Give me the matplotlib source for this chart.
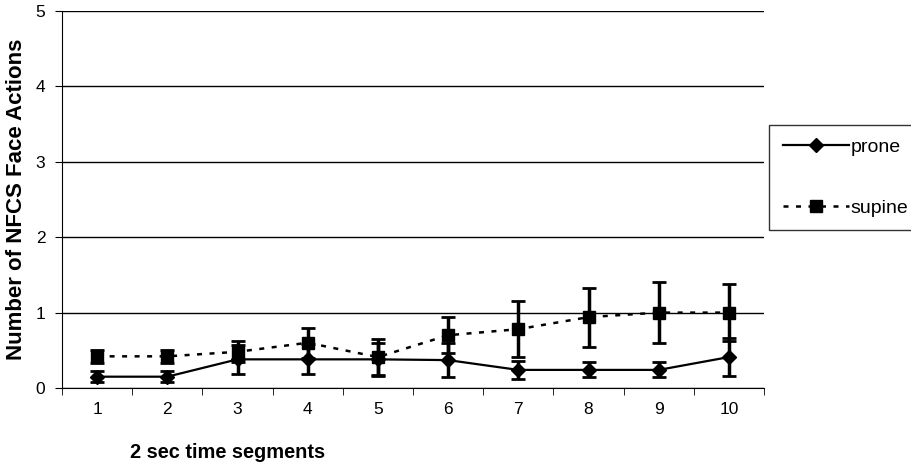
import matplotlib
matplotlib.use('Agg')
from matplotlib import pyplot as plt
import numpy as np

plt.rcParams['font.family'] = ['Liberation Sans', 'DejaVu Sans']

segments = [1, 2, 3, 4, 5, 6, 7, 8, 9, 10]
prone = [0.15, 0.15, 0.38, 0.38, 0.38, 0.37, 0.24, 0.24, 0.24, 0.41]
prone_err = [0.07, 0.07, 0.19, 0.2, 0.22, 0.23, 0.12, 0.1, 0.1, 0.25]
supine = [0.42, 0.42, 0.48, 0.6, 0.41, 0.7, 0.78, 0.94, 1.0, 1.0]
supine_err = [0.09, 0.09, 0.14, 0.2, 0.24, 0.24, 0.37, 0.39, 0.4, 0.38]

fig = plt.figure(figsize=(9.11, 4.66), dpi=100)
ax = fig.add_axes([62 / 911, 1 - 388 / 466, 702 / 911, 377 / 466])

p = ax.errorbar(segments, prone, yerr=prone_err, color='black', lw=1.6,
                marker='D', ms=7, capsize=5, elinewidth=2.5, capthick=2)
s = ax.errorbar(segments, supine, yerr=supine_err, color='black', lw=1.8,
                ls=(0, (2, 3)), marker='s', ms=9, capsize=5, elinewidth=2.5,
                capthick=2)

ax.set_xlim(0.5, 10.5)
ax.set_ylim(0, 5)
ax.set_yticks([0, 1, 2, 3, 4, 5])
ax.yaxis.grid(True, color='black', lw=1)
ax.set_axisbelow(True)
ax.set_xticks(segments)
ax.set_xticks(np.arange(0.5, 11, 1), minor=True)
ax.tick_params(axis='x', which='major', length=0, pad=10, labelsize=12.5)
ax.tick_params(axis='x', which='minor', length=5, direction='out')
ax.tick_params(axis='y', length=5, direction='out', labelsize=12.5, pad=7)
for side in ['top', 'right']:
    ax.spines[side].set_visible(False)

ax.set_ylabel('Number of NFCS Face Actions', fontsize=16, fontweight='bold',
              labelpad=6)
fig.text(130 / 911, 1 - 453 / 466, '2 sec time segments', fontsize=14.4,
         fontweight='bold', va='center')

leg = fig.legend([p.lines[0], s.lines[0]], ['prone', 'supine'],
                 loc='upper left', bbox_to_anchor=(769 / 911, 1 - 125 / 466),
                 frameon=True, fancybox=False, edgecolor='black',
                 fontsize=14, handlelength=3.4, handletextpad=0.1,
                 labelspacing=2.2, borderpad=0.7, borderaxespad=0)
leg.get_frame().set_linewidth(1)

fig.savefig('out.png', dpi=100)
